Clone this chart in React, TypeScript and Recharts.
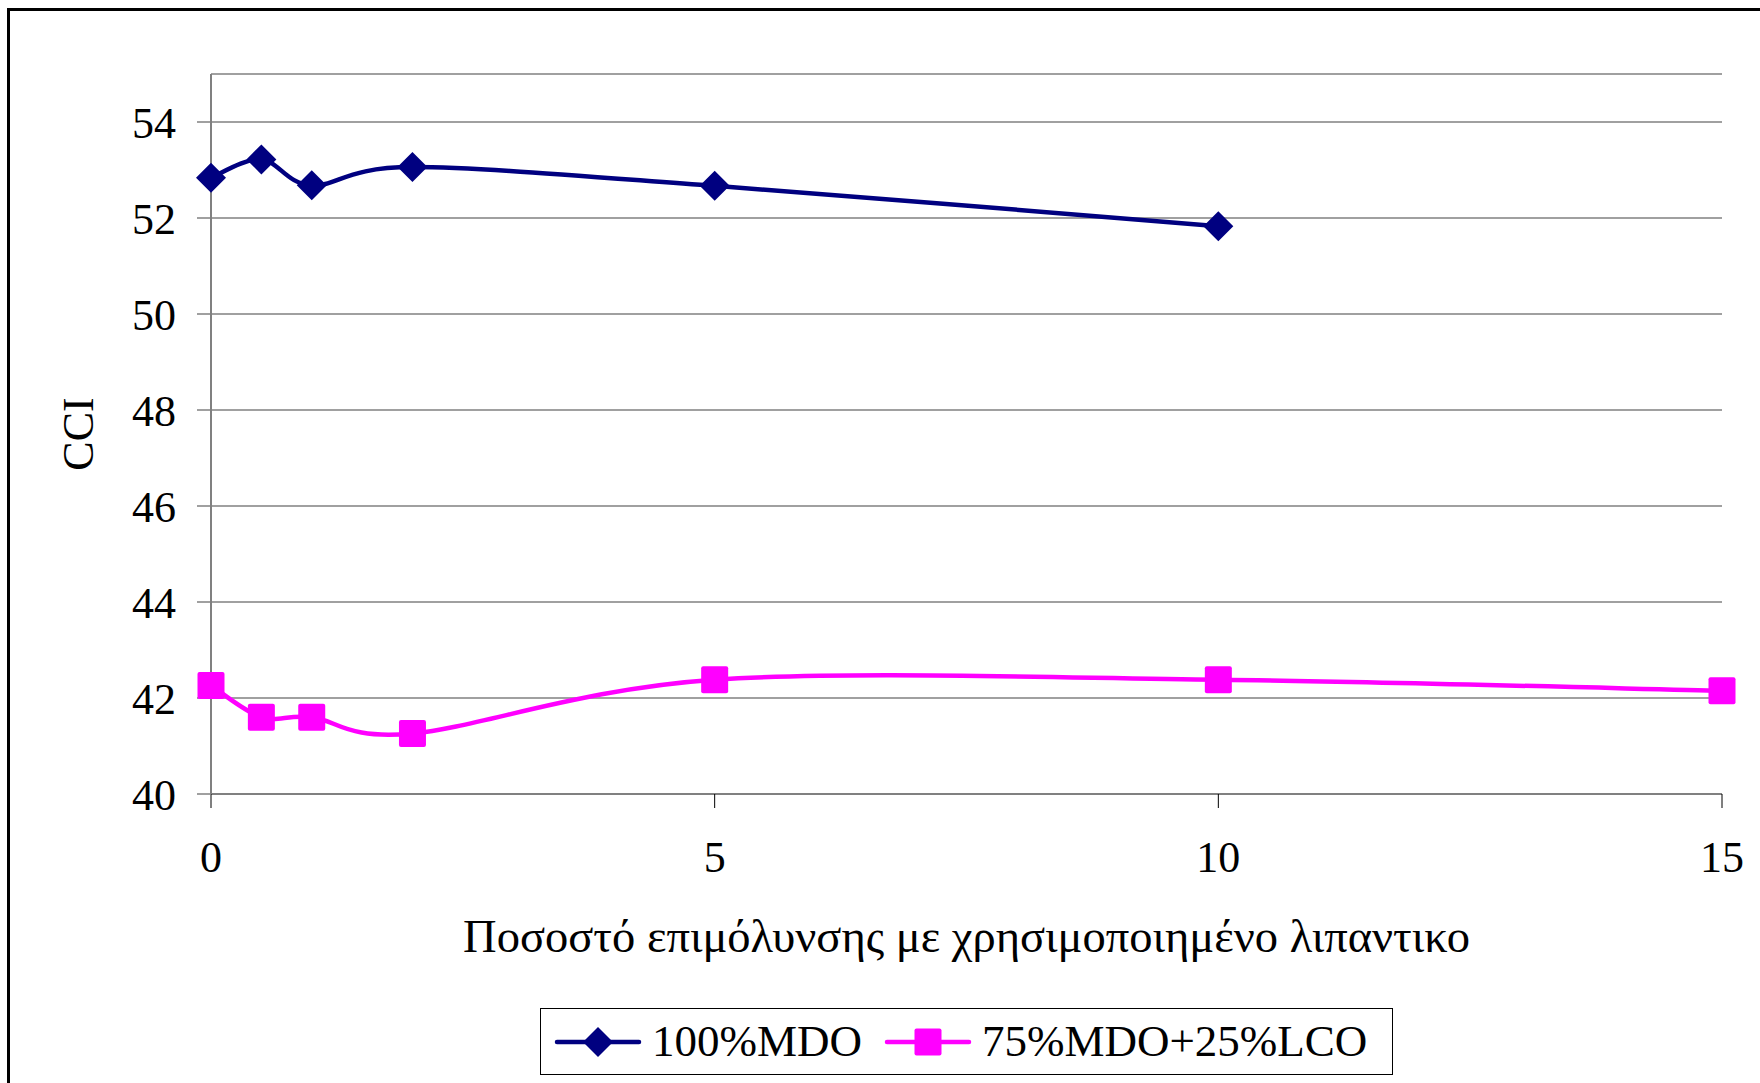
import React from "react"
import { CartesianGrid, Legend, Line, LineChart, XAxis, YAxis } from "recharts"

// Contamination with used lubricant (%)
const mdoContamination = [0, 0.5, 1, 2, 5, 10]
const mdoCci = [52.84, 53.22, 52.68, 53.06, 52.67, 51.83]

const blendContamination = [0, 0.5, 1, 2, 5, 10, 15]
const blendCci = [42.26, 41.6, 41.6, 41.26, 42.38, 42.38, 42.15]

const xTicks = [0, 5, 10, 15]
const yTicks = [40, 42, 44, 46, 48, 50, 52, 54]

const mdoData = mdoContamination.map((x, i) => ({ x, cci: mdoCci[i] }))
const blendData = blendContamination.map((x, i) => ({ x, cci: blendCci[i] }))

const NAVY = "#000080"
const MAGENTA = "#FF00FF"
const FONT = '"Liberation Serif", "Times New Roman", serif'

// Catmull-Rom style smoothing, close to what spreadsheet "smoothed line" charts draw
const smoothCurve = (context: any) => {
  let pts: number[][] = []
  return {
    areaStart() {},
    areaEnd() {},
    lineStart() {
      pts = []
    },
    point(x: number, y: number) {
      pts.push([+x, +y])
    },
    lineEnd() {
      if (!pts.length) return
      context.moveTo(pts[0][0], pts[0][1])
      for (let i = 0; i < pts.length - 1; i++) {
        const p0 = pts[i - 1] || pts[i]
        const p1 = pts[i]
        const p2 = pts[i + 1]
        const p3 = pts[i + 2] || p2
        context.bezierCurveTo(
          p1[0] + (p2[0] - p0[0]) / 6,
          p1[1] + (p2[1] - p0[1]) / 6,
          p2[0] - (p3[0] - p1[0]) / 6,
          p2[1] - (p3[1] - p1[1]) / 6,
          p2[0],
          p2[1],
        )
      }
    },
  }
}

const Diamond = (props: any) => {
  const { cx, cy } = props
  if (cx == null || cy == null) return null
  const r = 15
  return (
    <polygon
      key={`d-${cx}-${cy}`}
      points={`${cx},${cy - r} ${cx + r},${cy} ${cx},${cy + r} ${cx - r},${cy}`}
      fill={NAVY}
    />
  )
}

const Square = (props: any) => {
  const { cx, cy } = props
  if (cx == null || cy == null) return null
  const s = 27
  return <rect key={`s-${cx}-${cy}`} x={cx - s / 2} y={cy - s / 2} width={s} height={s} rx={2} fill={MAGENTA} />
}

const LegendIcon = ({ color, shape }: { color: string; shape: "diamond" | "square" }) => (
  <svg width={88} height={40} style={{ display: "block" }}>
    <line x1={3} y1={20} x2={85} y2={20} stroke={color} strokeWidth={4.5} strokeLinecap="round" />
    {shape === "diamond" ? (
      <polygon points="44,5 59,20 44,35 29,20" fill={color} />
    ) : (
      <rect x={30.5} y={6.5} width={27} height={27} rx={2} fill={color} />
    )}
  </svg>
)

const renderLegend = (props: any) => {
  const items = props.payload || []
  return (
    <div
      style={{
        display: "flex",
        alignItems: "center",
        boxSizing: "border-box",
        width: "100%",
        height: "100%",
        border: "1.5px solid #000",
        paddingLeft: 13,
        fontFamily: FONT,
        fontSize: 45,
        color: "#000",
      }}
    >
      {items.map((entry: any, i: number) => (
        <div key={entry.value} style={{ display: "flex", alignItems: "center", marginRight: i === 0 ? 22 : 0 }}>
          <LegendIcon color={entry.color} shape={i === 0 ? "diamond" : "square"} />
          <span style={{ marginLeft: 10, lineHeight: 1 }}>{entry.value}</span>
        </div>
      ))}
    </div>
  )
}

const textStyle = { fill: "#000", fontSize: 44, fontFamily: FONT }

export default function App() {
  return (
    <div
      style={{
        position: "absolute",
        left: 0,
        top: 0,
        width: 1760,
        height: 1083,
        overflow: "hidden",
        background: "#fff",
        fontFamily: FONT,
      }}
    >
      {/* chart frame, only the top and left edges fall inside the page */}
      <div
        style={{
          position: "absolute",
          left: 7,
          top: 8,
          width: 1800,
          height: 1200,
          borderTop: "3px solid #000",
          borderLeft: "3px solid #000",
        }}
      />
      <div style={{ position: "absolute", left: 0, top: 0 }}>
        <LineChart width={1760} height={1083} margin={{ top: 74, right: 38, bottom: 229, left: 0 }}>
          <CartesianGrid vertical={false} stroke="#808080" strokeWidth={1.5} />
          <XAxis
            type="number"
            dataKey="x"
            domain={[0, 15]}
            ticks={xTicks}
            height={60}
            allowDuplicatedCategory={false}
            axisLine={{ stroke: "#808080", strokeWidth: 2 }}
            tickLine={{ stroke: "#000", strokeWidth: 1 }}
            tickSize={14}
            tickMargin={33}
            tick={textStyle}
            label={{
              value: "Ποσοστό επιμόλυνσης με χρησιμοποιημένο λιπαντικο",
              position: "bottom",
              offset: 65,
              style: { ...textStyle, fontSize: 46.5 },
            }}
          />
          <YAxis
            type="number"
            domain={[40, 55]}
            ticks={yTicks}
            width={211}
            axisLine={{ stroke: "#808080", strokeWidth: 2 }}
            tickLine={{ stroke: "#808080", strokeWidth: 1.5 }}
            tickSize={14}
            tickMargin={21}
            tick={textStyle}
            label={{
              value: "CCI",
              angle: -90,
              position: "insideLeft",
              offset: 77,
              style: { ...textStyle, textAnchor: "middle" },
            }}
          />
          <Legend
            layout="horizontal"
            verticalAlign="middle"
            align="center"
            content={renderLegend}
            wrapperStyle={{ position: "absolute", left: 540, top: 1008, width: 853, height: 67 }}
          />
          <Line
            data={mdoData}
            dataKey="cci"
            name="100%MDO"
            type={smoothCurve as any}
            stroke={NAVY}
            strokeWidth={4.5}
            dot={Diamond}
            activeDot={false}
            isAnimationActive={false}
          />
          <Line
            data={blendData}
            dataKey="cci"
            name="75%MDO+25%LCO"
            type={smoothCurve as any}
            stroke={MAGENTA}
            strokeWidth={4.5}
            dot={Square}
            activeDot={false}
            isAnimationActive={false}
          />
        </LineChart>
      </div>
    </div>
  )
}
